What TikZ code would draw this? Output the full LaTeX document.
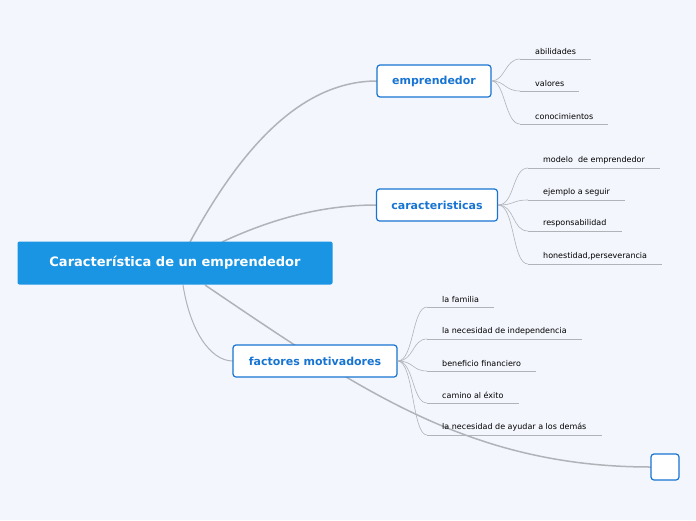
\documentclass[tikz,border=0pt]{standalone}
\usepackage{fontspec}
\setmainfont{DejaVu Sans}
\definecolor{bgblue}{HTML}{F3F6FD}
\definecolor{rootblue}{HTML}{1A95E3}
\definecolor{topicblue}{HTML}{1874D2}
\definecolor{linegray}{HTML}{B0B3B8}
\begin{document}
\begin{tikzpicture}[
  x=1pt, y=-1pt,
  root/.style = {rectangle, rounded corners=2pt, fill=rootblue, text=white,
    font=\bfseries\fontsize{13}{15}\selectfont, minimum width=315, minimum height=43},
  topic/.style = {rectangle, rounded corners=3pt, draw=topicblue, line width=1.2pt,
    fill=white, text=topicblue, font=\bfseries\fontsize{11}{13}\selectfont,
    minimum height=32, inner xsep=2pt},
  leaf/.style = {anchor=south west, font=\fontsize{8}{10}\selectfont,
    inner xsep=15pt, inner ysep=4pt},
  conn/.style = {draw=linegray, line width=1pt},
  thin conn/.style = {draw=linegray, line width=0.6pt},
  ]
  \fill[bgblue] (0,0) rectangle (696,520);
  \useasboundingbox (0,0) rectangle (696,520);
  % main branches
  \draw[conn, line width=1.5pt] (190,242) .. controls (240,150) and (300,81) .. (377,81);
  \draw[conn, line width=1.5pt] (222,242) .. controls (280,215) and (330,205) .. (377,205);
  \draw[conn] (183,285) .. controls (190,330) and (210,361) .. (233,361);
  \draw[conn, line width=1.5pt] (205,285) .. controls (360,390) and (470,467) .. (651,467);
  \node[root] (main) at (175,263) {Característica de un emprendedor};
  \node[topic, minimum width=114] (empr) at (434,81) {emprendedor};
  \node[topic, minimum width=121] (cara) at (437,205) {caracteristicas};
  \node[topic, minimum width=164] (fact) at (315,361) {factores motivadores};
  \node[draw=topicblue, line width=1.2pt, fill=white, rounded corners=3pt,
    minimum width=28, minimum height=26] (empty) at (665,467) {};
  % leaves
  \foreach \name/\txt/\ypos in {a1/abilidades/59, a2/valores/91, a3/conocimientos/124}{
    \node[leaf] (\name) at (520,\ypos) {\txt};
    \draw[thin conn] (\name.south west) -- (\name.south east);
    \draw[thin conn] (empr.east) .. controls (505,81) and (505,\ypos) .. (\name.south west);
  }
  \foreach \name/\txt/\ypos in {b1/modelo\ \ de emprendedor/168, b2/ejemplo a seguir/200,
      b3/responsabilidad/231, b4/{honestidad,perseverancia}/264}{
    \node[leaf] (\name) at (528,\ypos) {\txt};
    \draw[thin conn] (\name.south west) -- (\name.south east);
    \draw[thin conn] (cara.east) .. controls (515,205) and (512,\ypos) .. (\name.south west);
  }
  \foreach \name/\txt/\ypos in {c1/la familia/307, c2/la necesidad de independencia/339,
      c3/beneficio financiero/371, c4/camino al éxito/403,
      c5/la necesidad de ayudar a los demás/435}{
    \node[leaf] (\name) at (427,\ypos) {\txt};
    \draw[thin conn] (\name.south west) -- (\name.south east);
    \draw[thin conn] (fact.east) .. controls (414,361) and (412,\ypos) .. (\name.south west);
  }
\end{tikzpicture}
\end{document}
